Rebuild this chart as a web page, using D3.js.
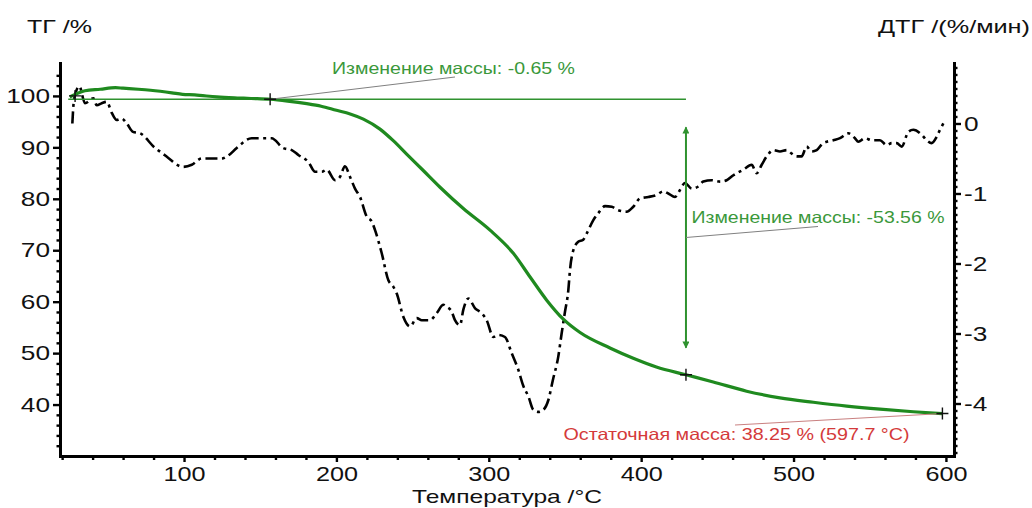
<!DOCTYPE html>
<html>
<head>
<meta charset="utf-8">
<script src="https://cdn.jsdelivr.net/npm/d3@7"></script>
<style>
  html, body { margin: 0; padding: 0; background: #fff; }
  svg { display: block; font-family: "Liberation Sans", Arial, sans-serif; }
</style>
</head>
<body>
<svg id="chart" width="1032" height="508"></svg>
<script>
// Thermogravimetric curve: temperature (°C) and remaining mass (%)
const tgTemperature = [25, 28.5, 35, 45, 55, 60, 70, 78, 92, 99, 107, 121.5, 135, 144, 156.5, 168, 180.5, 190, 200, 209, 217.7, 228.6, 237.3, 246.1, 257, 268, 283.3, 300.8, 316.1, 327.1, 338, 348.9, 359.9, 379.5, 394.8, 410, 429.4, 447.3, 469.2, 491.1, 513, 534.9, 556.7, 578.6, 597.7];
const tgMass = [99.8, 100.3, 101.0, 101.3, 101.6, 101.5, 101.3, 101.1, 100.6, 100.3, 100.2, 99.8, 99.6, 99.5, 99.35, 99.0, 98.5, 98.0, 97.2, 96.5, 95.5, 93.55, 91.3, 88.7, 85.5, 82.25, 78.1, 73.9, 69.4, 64.8, 60.3, 56.6, 54.0, 51.0, 49.0, 47.3, 45.79, 44.4, 42.6, 41.3, 40.45, 39.7, 39.1, 38.6, 38.25];

// Derivative curve: temperature (°C) and mass loss rate (%/min)
const dtgTemperature = [26.7,27.8,31.3,35.0,40.5,42.7,46.0,49.3,52.6,55.8,59.1,62.4,66.5,71.1,81.0,85.4,89.5,99.3,105.1,111.6,124.7,128.9,134.6,144.4,147.7,157.5,165.0,170.7,175.0,181.6,186.0,190.4,193.6,199.1,202.4,205.6,208.9,212.2,215.5,219.9,223.2,225.3,229.7,234.1,237.3,239.6,243.9,248.3,252.7,256.0,261.4,265.8,270.2,272.4,275.7,277.8,281.1,283.3,286.6,291.0,295.4,298.6,303.0,306.2,310.6,315.0,319.4,322.5,326.0,329.2,332.5,335.8,339.1,342.1,345.6,347.8,350.0,352.2,353.3,355.5,358.7,362.0,364.3,368.6,371.9,376.3,380.7,385.0,390.5,394.8,399.2,404.7,410.2,414.5,417.8,422.2,425.5,428.7,433.2,437.5,440.8,446.3,451.8,456.1,460.5,467.0,472.5,475.8,479.1,482.4,486.7,491.1,495.5,498.8,502.1,505.3,508.6,511.9,515.2,519.5,526.1,530.5,535.9,540.3,542.5,546.9,551.3,556.7,561.1,564.4,567.7,571.0,575.3,578.6,584.1,587.4,590.6,593.9,596.1,598.3];
const dtgRate = [0.00,0.34,0.53,0.29,0.36,0.26,0.29,0.31,0.15,0.05,0.07,0.00,-0.12,-0.14,-0.35,-0.42,-0.49,-0.62,-0.59,-0.50,-0.50,-0.46,-0.35,-0.21,-0.21,-0.21,-0.35,-0.38,-0.45,-0.55,-0.69,-0.69,-0.66,-0.81,-0.76,-0.61,-0.76,-0.93,-1.05,-1.33,-1.40,-1.52,-1.85,-2.24,-2.33,-2.43,-2.76,-2.90,-2.78,-2.81,-2.81,-2.71,-2.59,-2.62,-2.69,-2.81,-2.88,-2.66,-2.50,-2.64,-2.71,-2.81,-3.05,-3.02,-3.05,-3.28,-3.52,-3.74,-3.90,-4.09,-4.12,-4.09,-3.95,-3.66,-3.33,-3.00,-2.69,-2.38,-2.09,-1.81,-1.69,-1.66,-1.57,-1.38,-1.28,-1.18,-1.19,-1.24,-1.26,-1.19,-1.07,-1.05,-1.02,-0.97,-1.00,-1.05,-0.95,-0.85,-0.93,-0.90,-0.83,-0.81,-0.83,-0.81,-0.74,-0.66,-0.59,-0.71,-0.59,-0.47,-0.38,-0.40,-0.38,-0.43,-0.47,-0.47,-0.33,-0.40,-0.38,-0.28,-0.24,-0.21,-0.14,-0.21,-0.26,-0.21,-0.24,-0.24,-0.31,-0.28,-0.28,-0.33,-0.12,-0.09,-0.16,-0.24,-0.28,-0.19,-0.09,0.00];

// Axis tick values
const temperatureTicks = [100, 200, 300, 400, 500, 600];
const massTicks = [40, 50, 60, 70, 80, 90, 100];
const rateTicks = [-4, -3, -2, -1, 0];

// Evaluated mass-loss steps
const startMass = 100;
const startTemperature = 28.5;
const levelLineStart = 24;
const step1Change = -0.65;
const step1Temperature = 156.5;
const step2Change = -53.56;
const step2Temperature = 429.4;
const residualMass = 38.25;
const residualTemperature = 597.7;

const step1Mass = +(startMass + step1Change).toFixed(2);
const step2Mass = +(step1Mass + step2Change).toFixed(2);

const svg = d3.select("#chart");
const plot = { left: 60, right: 954, top: 63, bottom: 456 };

const x = d3.scaleLinear().domain([18.6, 605.3]).range([plot.left, plot.right]);
const yTG = d3.scaleLinear().domain([30, 106.4]).range([plot.bottom, plot.top]);
const yDTG = d3.scaleLinear().domain([-4.75, 0.864]).range([plot.bottom, plot.top]);

const green = "#1f8a1f";
const lightGreen = "#2f922f";
const textGreen = "#3a983a";
const red = "#d43a3a";

function stretchText(sel, factor) {
  sel.each(function () {
    const w = this.getComputedTextLength();
    d3.select(this).attr("textLength", w * factor).attr("lengthAdjust", "spacingAndGlyphs");
  });
}

// plain hyphen for negative numbers, as the instrument software prints them
const num = (v, digits) => v.toFixed(digits);

// ----- axes -----
function styleAxis(g) {
  g.select(".domain").attr("stroke", "#000").attr("stroke-width", 3).attr("stroke-linecap", "square");
  g.selectAll(".tick line").attr("stroke", "#000").attr("stroke-width", 2.4);
  g.selectAll(".tick text").attr("fill", "#111").style("font-size", "21px");
}

// minor ticks
const minorTemp = d3.range(20, 606, 20).filter(v => v % 100 !== 0);
svg.append("g").attr("transform", `translate(0,${plot.bottom})`)
  .call(d3.axisBottom(x).tickValues(minorTemp).tickSize(4).tickSizeOuter(0).tickFormat(""))
  .call(g => { g.select(".domain").remove(); g.selectAll(".tick line").attr("stroke", "#000").attr("stroke-width", 2.4); });

const minorMass = d3.range(32, 106, 2).filter(v => v % 10 !== 0);
svg.append("g").attr("transform", `translate(${plot.left},0)`)
  .call(d3.axisLeft(yTG).tickValues(minorMass).tickSize(3.5).tickSizeOuter(0).tickFormat(""))
  .call(g => { g.select(".domain").remove(); g.selectAll(".tick line").attr("stroke", "#000").attr("stroke-width", 2.4); });

const minorRate = d3.range(-47, 9, 1).map(v => v / 10).filter(v => !Number.isInteger(v));
svg.append("g").attr("transform", `translate(${plot.right},0)`)
  .call(d3.axisRight(yDTG).tickValues(minorRate).tickSize(3.5).tickSizeOuter(0).tickFormat(""))
  .call(g => { g.select(".domain").remove(); g.selectAll(".tick line").attr("stroke", "#000").attr("stroke-width", 2.4); });

// major axes
const xAxisG = svg.append("g").attr("transform", `translate(0,${plot.bottom})`)
  .call(d3.axisBottom(x).tickValues(temperatureTicks).tickSize(6).tickSizeOuter(0).tickPadding(4).tickFormat(d => num(d, 0)))
  .call(styleAxis);
stretchText(xAxisG.selectAll(".tick text"), 1.2);

const yLeftG = svg.append("g").attr("transform", `translate(${plot.left},0)`)
  .call(d3.axisLeft(yTG).tickValues(massTicks).tickSize(7).tickSizeOuter(0).tickPadding(3).tickFormat(d => num(d, 0)))
  .call(styleAxis);
stretchText(yLeftG.selectAll(".tick text"), 1.25);

const yRightG = svg.append("g").attr("transform", `translate(${plot.right},0)`)
  .call(d3.axisRight(yDTG).tickValues(rateTicks).tickSize(7).tickSizeOuter(0).tickPadding(3).tickFormat(d => num(d, 0)))
  .call(styleAxis);
stretchText(yRightG.selectAll(".tick text"), 1.25);

// axis titles
svg.append("text").attr("x", 27).attr("y", 33).attr("fill", "#111")
  .style("font-size", "19px").attr("textLength", 65).attr("lengthAdjust", "spacingAndGlyphs")
  .text("ТГ /%");
svg.append("text").attr("x", 878).attr("y", 33).attr("fill", "#111")
  .style("font-size", "19px").attr("textLength", 152).attr("lengthAdjust", "spacingAndGlyphs")
  .text("ДТГ /(%/мин)");
svg.append("text").attr("x", (plot.left + plot.right) / 2).attr("y", 503).attr("text-anchor", "middle").attr("fill", "#111")
  .style("font-size", "19px").attr("textLength", 190).attr("lengthAdjust", "spacingAndGlyphs")
  .text("Температура /°C");

// ----- curves -----
const dtgData = d3.zip(dtgTemperature, dtgRate);
const tgData = d3.zip(tgTemperature, tgMass);

svg.append("path").datum(dtgData)
  .attr("fill", "none").attr("stroke", "#000").attr("stroke-width", 2.6)
  .attr("stroke-dasharray", "12,4.5,3,4.5")
  .attr("d", d3.line().x(d => x(d[0])).y(d => yDTG(d[1])).curve(d3.curveMonotoneX));

// reference level of the first step, carried to the second evaluation point
svg.append("line")
  .attr("x1", x(levelLineStart)).attr("x2", x(step2Temperature))
  .attr("y1", yTG(step1Mass)).attr("y2", yTG(step1Mass))
  .attr("stroke", lightGreen).attr("stroke-width", 1.4);

svg.append("path").datum(tgData)
  .attr("fill", "none").attr("stroke", green).attr("stroke-width", 3.2)
  .attr("stroke-linejoin", "round")
  .attr("d", d3.line().x(d => x(d[0])).y(d => yTG(d[1])).curve(d3.curveMonotoneX));

// double-headed arrow for the second step
const defs = svg.append("defs");
["start", "end"].forEach(k => {
  defs.append("marker").attr("id", "arrow-" + k)
    .attr("viewBox", "0 0 10 10").attr("refX", 9).attr("refY", 5)
    .attr("markerWidth", 9).attr("markerHeight", 7).attr("markerUnits", "userSpaceOnUse")
    .attr("orient", k === "start" ? "auto-start-reverse" : "auto")
    .append("path").attr("d", "M0,0L10,5L0,10Z").attr("fill", lightGreen);
});
svg.append("line")
  .attr("x1", x(step2Temperature)).attr("x2", x(step2Temperature))
  .attr("y1", yTG(step1Mass) + 28).attr("y2", yTG(step2Mass) - 27)
  .attr("stroke", lightGreen).attr("stroke-width", 2)
  .attr("marker-start", "url(#arrow-start)").attr("marker-end", "url(#arrow-end)");

// leader lines
svg.append("line")
  .attr("x1", x(step1Temperature)).attr("y1", yTG(step1Mass)).attr("x2", 455).attr("y2", 77)
  .attr("stroke", "#808080").attr("stroke-width", 1);
svg.append("line")
  .attr("x1", x(step2Temperature)).attr("y1", 237.5).attr("x2", 818).attr("y2", 226.5)
  .attr("stroke", "#808080").attr("stroke-width", 1);
svg.append("line")
  .attr("x1", 735).attr("y1", 425).attr("x2", x(residualTemperature)).attr("y2", yTG(residualMass))
  .attr("stroke", "#c98080").attr("stroke-width", 1);

// evaluation markers
const crosses = [[startTemperature, startMass], [step1Temperature, step1Mass], [step2Temperature, step2Mass], [residualTemperature, residualMass]];
svg.append("g").selectAll("path").data(crosses).join("path")
  .attr("transform", d => `translate(${x(d[0])},${yTG(d[1])})`)
  .attr("d", "M-6,0H6M0,-6V6")
  .attr("stroke", "#111").attr("stroke-width", 1.4).attr("fill", "none");

// annotation texts
svg.append("text").attr("x", 332).attr("y", 73.5).attr("fill", textGreen)
  .style("font-size", "16.5px").attr("textLength", 243).attr("lengthAdjust", "spacingAndGlyphs")
  .text(`Изменение массы: ${num(step1Change, 2)} %`);
svg.append("text").attr("x", 691.5).attr("y", 222.5).attr("fill", textGreen)
  .style("font-size", "16.5px").attr("textLength", 253).attr("lengthAdjust", "spacingAndGlyphs")
  .text(`Изменение массы: ${num(step2Change, 2)} %`);
svg.append("text").attr("x", 563.5).attr("y", 440).attr("fill", red)
  .style("font-size", "16.5px").attr("textLength", 346).attr("lengthAdjust", "spacingAndGlyphs")
  .text(`Остаточная масса: ${num(residualMass, 2)} % (${num(residualTemperature, 1)} °C)`);
</script>
</body>
</html>
